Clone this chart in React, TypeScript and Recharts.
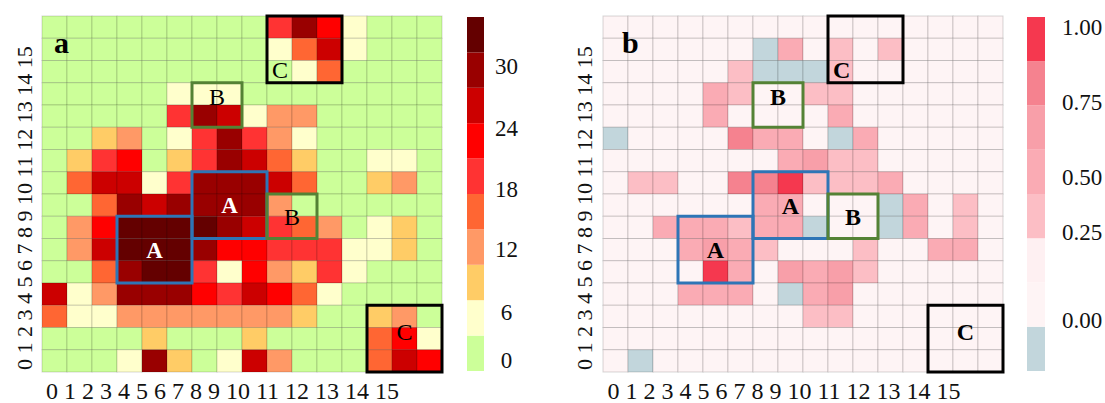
import React from 'react';
import { ScatterChart, Scatter, XAxis, YAxis, ReferenceArea, BarChart, Bar } from 'recharts';

const SERIF = '"Liberation Serif", "Times New Roman", serif';

// panel a: counts per cell, rows from top (15) to bottom (0), columns 0..15
const countsA: number[][] = [
  [0, 0, 0, 0, 0, 0, 0, 0, 0, 19, 29, 22, 4, 0, 0, 0],
  [0, 0, 0, 0, 0, 0, 0, 0, 0, 4, 15, 26, 4, 0, 0, 0],
  [0, 0, 0, 0, 0, 0, 0, 0, 0, 0, 4, 15, 0, 0, 0, 0],
  [0, 0, 0, 0, 0, 4, 4, 4, 0, 0, 0, 0, 0, 0, 0, 0],
  [0, 0, 0, 0, 0, 19, 29, 26, 4, 11, 11, 0, 0, 0, 0, 0],
  [0, 0, 8, 11, 0, 4, 19, 29, 19, 11, 4, 0, 0, 0, 0, 0],
  [0, 8, 19, 22, 0, 8, 19, 29, 26, 15, 8, 0, 0, 4, 4, 0],
  [0, 15, 26, 26, 4, 19, 29, 29, 29, 26, 15, 0, 0, 8, 11, 0],
  [0, 0, 15, 29, 26, 29, 29, 29, 29, 11, 0, 0, 0, 0, 0, 0],
  [0, 11, 22, 33, 33, 33, 33, 29, 26, 19, 15, 11, 0, 4, 8, 0],
  [0, 11, 26, 33, 33, 33, 29, 22, 22, 19, 19, 19, 4, 4, 8, 0],
  [0, 0, 15, 29, 33, 33, 19, 4, 22, 11, 8, 19, 4, 0, 0, 0],
  [26, 4, 11, 29, 29, 29, 22, 19, 26, 22, 15, 4, 0, 0, 0, 0],
  [15, 4, 4, 11, 11, 11, 11, 11, 11, 11, 8, 0, 0, 8, 11, 0],
  [0, 0, 0, 0, 8, 0, 0, 0, 8, 0, 0, 0, 0, 15, 22, 4],
  [0, 0, 0, 4, 29, 8, 0, 4, 26, 11, 0, 0, 0, 15, 26, 22],
];

// panel b: normalised values, same layout
const valuesB: number[][] = [
  [0.1, 0.1, 0.1, 0.1, 0.1, 0.1, 0.1, 0.1, 0.1, 0.1, 0.1, 0.1, 0.1, 0.1, 0.1, 0.1],
  [0.1, 0.1, 0.1, 0.1, 0.1, 0.1, -0.1, 0.45, 0.1, 0.35, 0.1, 0.35, 0.1, 0.1, 0.1, 0.1],
  [0.1, 0.1, 0.1, 0.1, 0.1, 0.35, -0.1, -0.1, -0.1, 0.35, 0.1, 0.1, 0.1, 0.1, 0.1, 0.1],
  [0.1, 0.1, 0.1, 0.1, 0.45, 0.35, 0.1, 0.1, 0.35, 0.35, 0.1, 0.1, 0.1, 0.1, 0.1, 0.1],
  [0.1, 0.1, 0.1, 0.1, 0.45, 0.1, 0.1, 0.1, 0.1, 0.45, 0.1, 0.1, 0.1, 0.1, 0.1, 0.1],
  [-0.1, 0.1, 0.1, 0.1, 0.1, 0.7, 0.45, 0.45, 0.1, -0.1, 0.45, 0.1, 0.1, 0.1, 0.1, 0.1],
  [0.1, 0.1, 0.1, 0.1, 0.1, 0.1, 0.1, 0.45, 0.55, 0.35, 0.35, 0.1, 0.1, 0.1, 0.1, 0.1],
  [0.1, 0.35, 0.35, 0.1, 0.1, 0.7, 0.7, 0.95, 0.35, 0.35, 0.35, 0.45, 0.1, 0.1, 0.1, 0.1],
  [0.1, 0.1, 0.1, 0.1, 0.1, 0.1, 0.45, 0.45, 0.1, 0.1, 0.1, -0.1, 0.45, 0.1, 0.35, 0.1],
  [0.1, 0.1, 0.45, 0.45, 0.45, 0.35, 0.45, 0.45, -0.1, 0.1, 0.1, -0.1, 0.45, 0.1, 0.35, 0.1],
  [0.1, 0.1, 0.1, 0.45, 0.55, 0.45, 0.35, 0.1, 0.1, 0.1, 0.35, 0.1, 0.1, 0.45, 0.45, 0.1],
  [0.1, 0.1, 0.1, 0.1, 0.95, 0.45, 0.1, 0.55, 0.45, 0.55, 0.35, 0.1, 0.1, 0.1, 0.1, 0.1],
  [0.1, 0.1, 0.1, 0.45, 0.45, 0.45, 0.1, -0.1, 0.45, 0.55, 0.1, 0.1, 0.1, 0.1, 0.1, 0.1],
  [0.1, 0.1, 0.1, 0.1, 0.1, 0.1, 0.1, 0.1, 0.35, 0.35, 0.1, 0.1, 0.1, 0.1, 0.1, 0.1],
  [0.1, 0.1, 0.1, 0.1, 0.1, 0.1, 0.1, 0.1, 0.1, 0.1, 0.1, 0.1, 0.1, 0.1, 0.1, 0.1],
  [0.1, -0.1, 0.1, 0.1, 0.1, 0.1, 0.1, 0.1, 0.1, 0.1, 0.1, 0.1, 0.1, 0.1, 0.1, 0.1],
];

// colour scales (bottom to top of the colour bars)
const colorsA = ['#ccff99', '#ffffcc', '#ffcc66', '#ff9966', '#ff6633', '#ff3333', '#ff0000', '#cc0000', '#990000', '#640000'];
const edgesA = [2.6, 6.2, 9.8, 13.4, 17, 20.6, 24.2, 27.8, 31.4];
const colorsB = ['#c2d6dc', '#fef4f5', '#fef0f2', '#fcbec5', '#faabb4', '#f89fa9', '#f5828f', '#f5384f'];
const edgesB = [0, 0.12, 0.25, 0.4, 0.5, 0.6, 0.8];

const tickLabelsA = ['0', '6', '12', '18', '24', '30'];
const tickAtA = [0.31, 1.67, 3.44, 5.14, 6.86, 8.61];
const tickLabelsB = ['0.00', '0.25', '0.50', '0.75', '1.00'];
const tickAtB = [1.15, 3.14, 4.38, 6.07, 7.77];

const axisLabels = '0 1 2 3 4 5 6 7 8 9 10 11 12 13 14 15';

// highlighted regions: [x1, x2] columns, [y1, y2] rows
const boxNames = ['A', 'A', 'B', 'B', 'C', 'C'];
const boxCols = [[6, 9], [3, 6], [6, 8], [9, 11], [9, 12], [13, 16]];
const boxRows = [[6, 9], [4, 7], [11, 13], [6, 8], [13, 16], [0, 3]];
const boxLabelPos = ['center', 'center', 'insideTop', 'center', 'insideBottomLeft', 'insideTop'];
const boxLabelOffset = [5, 5, 5, 5, 5, 18];
const boxColors: Record<string, string> = { A: '#2e75b6', B: '#548235', C: '#000000' };

const CW = 25;
const CH = 356 / 16;
const minorTicks = Array.from({ length: 16 }, (_, i) => i + 0.5);

function binOf(v: number, edges: number[]) {
  let i = 0;
  while (i < edges.length && v >= edges[i]) i++;
  return i;
}

function toCells(grid: number[][]) {
  const out: { x: number; y: number; v: number }[] = [];
  grid.forEach((row, r) => row.forEach((v, c) => out.push({ x: c + 0.5, y: 15 - r + 0.5, v })));
  return out;
}

function Heatmap({ grid, colorOf, variant }: { grid: number[][]; colorOf: (v: number) => string; variant: 'a' | 'b' }) {
  const cells = toCells(grid);
  return (
    <ScatterChart width={450} height={403} margin={{ top: 16, right: 8, bottom: 31, left: 42 }}>
      <XAxis type="number" dataKey="x" domain={[0, 16]} ticks={minorTicks} tickFormatter={() => ''}
        height={0} tickSize={3} axisLine={false} stroke="#9a9a9a" />
      <YAxis type="number" dataKey="y" domain={[0, 16]} ticks={minorTicks} tickFormatter={() => ''}
        width={0} tickSize={3} axisLine={false} stroke="#9a9a9a" />
      <Scatter
        data={cells}
        isAnimationActive={false}
        shape={(p: any) => (
          <rect x={p.cx - CW / 2} y={p.cy - CH / 2} width={CW} height={CH}
            fill={colorOf(p.payload.v)} stroke="rgba(0,0,0,0.16)" strokeWidth={1} />
        )}
      />
      {boxNames.map((name, i) => {
        const white = variant === 'a' && name === 'A';
        return (
          <ReferenceArea
            key={i}
            zIndex={1500}
            x1={boxCols[i][0]} x2={boxCols[i][1]} y1={boxRows[i][0]} y2={boxRows[i][1]}
            fill="none" fillOpacity={0} stroke={boxColors[name]} strokeWidth={3} strokeOpacity={1}
            label={{
              value: name,
              position: boxLabelPos[i] as any,
              offset: boxLabelOffset[i],
              fill: white ? '#ffffff' : '#000000',
              fontSize: white ? 23 : 24,
              fontWeight: variant === 'b' || white ? 'bold' : 'normal',
              fontFamily: SERIF,
            }}
          />
        );
      })}
    </ScatterChart>
  );
}

function ColorBar({ colors, tickAt, tickLabels, width, yAxisWidth, labelDx, anchor }: {
  colors: string[]; tickAt: number[]; tickLabels: string[]; width: number; yAxisWidth: number; labelDx: number; anchor: 'middle' | 'start';
}) {
  const row: Record<string, number | string> = { name: 'bar' };
  colors.forEach((_, i) => { row['b' + i] = 1; });
  return (
    <BarChart width={width} height={403} data={[row]} margin={{ top: 17, right: 0, bottom: 32, left: 27 }} barCategoryGap={0}>
      <XAxis dataKey="name" hide />
      <YAxis orientation="right" type="number" domain={[0, colors.length]} ticks={tickAt} width={yAxisWidth}
        axisLine={false} tickLine={false}
        tick={(p: any) => (
          <text x={p.x + labelDx} y={p.y} dy="0.35em" textAnchor={anchor} fontSize={23} fontFamily={SERIF} fill="#111">
            {tickLabels[tickAt.indexOf(p.payload.value)]}
          </text>
        )}
      />
      {colors.map((c, i) => (
        <Bar key={i} dataKey={'b' + i} stackId="s" fill={c} isAnimationActive={false} />
      ))}
    </BarChart>
  );
}

const abs = (left: number, top: number): React.CSSProperties => ({ position: 'absolute', left, top });

export default function App() {
  const colorA = (v: number) => colorsA[binOf(v, edgesA)];
  const colorB = (v: number) => colorsB[binOf(v, edgesB)];
  const xLab: React.CSSProperties = { fontSize: 24, lineHeight: '19px', whiteSpace: 'nowrap', color: '#111', width: 380 };
  const yLab: React.CSSProperties = { fontSize: 22, lineHeight: '22px', whiteSpace: 'nowrap', color: '#111', width: 340, transform: 'rotate(-90deg)', transformOrigin: '0 0' };
  const panelLetter: React.CSSProperties = { fontSize: 30, lineHeight: '30px', fontWeight: 'bold', color: '#000' };
  return (
    <div style={{ position: 'absolute', left: 0, top: 0, width: 1105, height: 403, background: '#fff', fontFamily: SERIF, overflow: 'hidden' }}>
      <div style={abs(0, 0)}>
        <Heatmap grid={countsA} colorOf={colorA} variant="a" />
      </div>
      <div style={abs(440, 0)}>
        <ColorBar colors={colorsA} tickAt={tickAtA} tickLabels={tickLabelsA} width={110} yAxisWidth={66} labelDx={14.5} anchor="middle" />
      </div>
      <div style={abs(561, 0)}>
        <Heatmap grid={valuesB} colorOf={colorB} variant="b" />
      </div>
      <div style={abs(1000, 0)}>
        <ColorBar colors={colorsB} tickAt={tickAtB} tickLabels={tickLabelsB} width={105} yAxisWidth={60} labelDx={9} anchor="start" />
      </div>

      <div style={{ ...abs(46, 382), ...xLab }}>{axisLabels}</div>
      <div style={{ ...abs(13.6, 370), ...yLab }}>{axisLabels}</div>
      <div style={{ ...abs(607.5, 382), ...xLab }}>{axisLabels}</div>
      <div style={{ ...abs(573.6, 370), ...yLab }}>{axisLabels}</div>

      <div style={{ ...abs(54, 28), ...panelLetter }}>a</div>
      <div style={{ ...abs(622, 28), ...panelLetter }}>b</div>
    </div>
  );
}
